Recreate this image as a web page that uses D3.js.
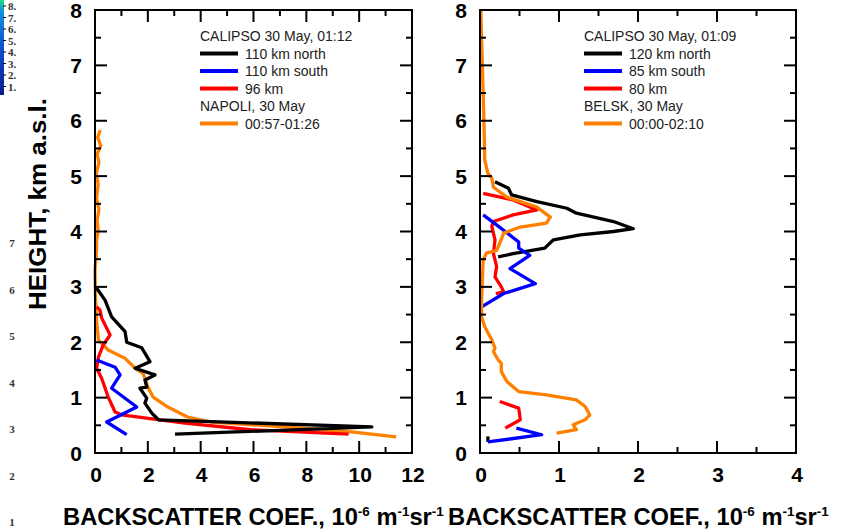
<!DOCTYPE html>
<html><head><meta charset="utf-8">
<script src="https://cdn.jsdelivr.net/npm/d3@7"></script>
<style>body{margin:0;background:#fff}svg{display:block}</style>
</head><body>
<svg id="c" width="848" height="531"></svg>
<script>
// ---- Data ----
const leftXTicks = [0, 2, 4, 6, 8, 10, 12];
const rightXTicks = [0, 1, 2, 3, 4];
const yTicks = [0, 1, 2, 3, 4, 5, 6, 7, 8];

// Left panel (Napoli)
const lNorthH = [2.98, 2.76, 2.46, 2.19, 2.0, 1.9, 1.65, 1.53, 1.41, 1.32, 1.19, 1.17, 0.99, 0.9, 0.72, 0.6, 0.47, 0.34];
const lNorthV = [0.06, 0.38, 0.63, 1.14, 1.2, 1.77, 2.08, 1.52, 2.27, 1.89, 1.96, 1.7, 1.96, 1.89, 2.15, 2.4, 10.48, 3.03];
const lSouthH = [1.68, 1.55, 1.41, 1.17, 0.83, 0.56, 0.33];
const lSouthV = [0.06, 0.76, 0.95, 0.63, 1.58, 0.44, 1.2];
const lMidH = [2.64, 2.58, 2.44, 2.13, 1.95, 1.73, 1.53, 1.35, 1.01, 0.74, 0.69, 0.54, 0.42, 0.34];
const lMidV = [0.06, 0.19, 0.25, 0.57, 0.31, 0.13, 0.06, 0.25, 0.5, 0.76, 1.01, 3.4, 5.9, 9.6];
const lLidarH = [5.83, 5.7, 5.55, 5.4, 5.25, 5.05, 4.85, 4.6, 4.4, 4.2, 4.0, 3.85, 3.66, 3.3, 2.8, 2.4, 2.04, 1.86, 1.77, 1.71, 1.53, 1.44, 1.19, 1.01, 0.83, 0.65, 0.56, 0.47, 0.38, 0.29];
const lLidarV = [0.2, 0.1, 0.22, 0.08, 0.15, 0.05, 0.12, 0.06, 0.15, 0.08, 0.12, 0.06, 0.06, 0.0, 0.02, 0.06, 0.13, 0.5, 0.88, 1.14, 1.52, 1.82, 2.0, 2.2, 2.76, 3.5, 4.4, 7.2, 9.7, 11.4];

// Right panel (Belsk)
const rNorthH = [4.9, 4.78, 4.66, 4.54, 4.42, 4.33, 4.18, 4.05, 4.0, 3.94, 3.85, 3.7, 3.6, 3.54];
const rNorthV = [0.19, 0.36, 0.4, 0.72, 1.1, 1.22, 1.69, 1.94, 1.69, 1.27, 0.93, 0.82, 0.42, 0.23];
const rNorthLowH = [0.3, 0.2];
const rNorthLowV = [0.1, 0.1];
const rSouthH = [4.3, 4.12, 3.81, 3.7, 3.57, 3.33, 3.06, 2.88, 2.64];
const rSouthV = [0.04, 0.21, 0.49, 0.49, 0.63, 0.38, 0.7, 0.3, 0.02];
const rSouthLowH = [0.45, 0.33, 0.2];
const rSouthLowV = [0.46, 0.78, 0.1];
const rMidH = [4.69, 4.57, 4.39, 4.3, 4.18, 4.09, 3.85, 3.6, 3.37, 3.18, 3.0, 2.91, 2.88];
const rMidV = [0.04, 0.42, 0.72, 0.42, 0.17, 0.15, 0.19, 0.17, 0.21, 0.19, 0.27, 0.3, 0.2];
const rMidLowH = [0.93, 0.81, 0.6, 0.45];
const rMidLowV = [0.25, 0.49, 0.51, 0.32];
const rLidarH = [8.0, 7.0, 6.0, 5.29, 5.05, 4.96, 4.8, 4.62, 4.44, 4.26, 4.15, 4.08, 3.97, 3.79, 3.66, 3.61, 3.48, 2.76, 2.46, 2.28, 2.04, 1.89, 1.83, 1.68, 1.62, 1.47, 1.29, 1.11, 1.05, 0.96, 0.84, 0.69, 0.6, 0.51, 0.42, 0.36];
const rLidarV = [0.01, 0.03, 0.05, 0.06, 0.1, 0.15, 0.17, 0.34, 0.72, 0.89, 0.84, 0.51, 0.3, 0.25, 0.21, 0.08, 0.04, 0.02, 0.02, 0.06, 0.15, 0.19, 0.17, 0.23, 0.27, 0.27, 0.34, 0.49, 0.84, 1.22, 1.33, 1.39, 1.33, 1.18, 1.22, 0.97];

const leftLegendTitle = "CALIPSO 30 May, 01:12";
const leftLegendLabels = ["110 km north", "110 km south", "96 km"];
const leftStation = "NAPOLI, 30 May";
const leftStationTime = "00:57-01:26";
const rightLegendTitle = "CALIPSO 30 May, 01:09";
const rightLegendLabels = ["120 km north", "85 km south", "80 km"];
const rightStation = "BELSK, 30 May";
const rightStationTime = "00:00-02:10";

const cbLabels = ["8.", "7.", "6.", "5.", "4.", "3.", "2.", "1."];
const sideLabels = ["7", "6", "5", "4", "3", "2", "1"];

const colors = {north: "#000000", south: "#0000ff", mid: "#ff0000", lidar: "#ff8000"};

// ---- Drawing ----
const svg = d3.select("#c");
const y = d3.scaleLinear().domain([0, 8]).range([453, 10]);
const xL = d3.scaleLinear().domain([0, 12]).range([95, 412]);
const xR = d3.scaleLinear().domain([0, 4]).range([480, 796]);

const zip = (H, V) => H.map((h, i) => [V[i], h]);

function panel(x, minorStep, majorStep, xTicks, series) {
  const g = svg.append("g");
  const [x0, x1] = x.range();
  const [y0, y1] = [y(0), y(8)];
  const line = d3.line().x(d => x(d[0])).y(d => y(d[1]));
  series.forEach(s => {
    g.append("path").attr("d", line(zip(s.h, s.v)))
      .attr("fill", "none").attr("stroke", s.c).attr("stroke-width", 3.3)
      .attr("stroke-linejoin", "round").attr("stroke-linecap", "butt");
  });
  g.append("rect").attr("x", x0).attr("y", y1).attr("width", x1 - x0).attr("height", y0 - y1)
    .attr("fill", "none").attr("stroke", "#000").attr("stroke-width", 2);
  const dom = x.domain();
  const nx = Math.round((dom[1] - dom[0]) / minorStep);
  for (let i = 1; i < nx; i++) {
    const v = dom[0] + i * minorStep;
    const major = Math.abs(v / majorStep - Math.round(v / majorStep)) < 1e-6;
    const L = major ? 12 : 6;
    g.append("line").attr("x1", x(v)).attr("x2", x(v)).attr("y1", y0).attr("y2", y0 - L).attr("stroke", "#000").attr("stroke-width", 2);
    g.append("line").attr("x1", x(v)).attr("x2", x(v)).attr("y1", y1).attr("y2", y1 + L).attr("stroke", "#000").attr("stroke-width", 2);
  }
  for (let i = 1; i < 16; i++) {
    const v = i * 0.5;
    const L = (i % 2 === 0) ? 12 : 6;
    g.append("line").attr("x1", x0).attr("x2", x0 + L).attr("y1", y(v)).attr("y2", y(v)).attr("stroke", "#000").attr("stroke-width", 2);
    g.append("line").attr("x1", x1).attr("x2", x1 - L).attr("y1", y(v)).attr("y2", y(v)).attr("stroke", "#000").attr("stroke-width", 2);
  }
  g.selectAll(".xl").data(xTicks).enter().append("text")
    .attr("x", d => x(d) + 1).attr("y", 482).attr("text-anchor", "middle")
    .attr("font-family", "Liberation Sans, Arial, sans-serif").attr("font-weight", "bold").attr("font-size", 21)
    .text(d => d);
  g.selectAll(".yl").data(yTicks).enter().append("text")
    .attr("x", x0 - 19).attr("y", d => y(d) + 7.5).attr("text-anchor", "middle")
    .attr("font-family", "Liberation Sans, Arial, sans-serif").attr("font-weight", "bold").attr("font-size", 21)
    .text(d => d);
  return g;
}

panel(xL, 1, 2, leftXTicks, [
  {h: lLidarH, v: lLidarV, c: colors.lidar},
  {h: lMidH, v: lMidV, c: colors.mid},
  {h: lSouthH, v: lSouthV, c: colors.south},
  {h: lNorthH, v: lNorthV, c: colors.north}
]);
panel(xR, 0.5, 1, rightXTicks, [
  {h: rNorthH, v: rNorthV, c: colors.north},
  {h: rNorthLowH, v: rNorthLowV, c: colors.north},
  {h: rMidH, v: rMidV, c: colors.mid},
  {h: rMidLowH, v: rMidLowV, c: colors.mid},
  {h: rSouthH, v: rSouthV, c: colors.south},
  {h: rSouthLowH, v: rSouthLowV, c: colors.south},
  {h: rLidarH, v: rLidarV, c: colors.lidar}
]);

function legend(x0, title, labels, station, time) {
  const g = svg.append("g").attr("font-family", "Liberation Sans, Arial, sans-serif").attr("font-size", 14).attr("fill", "#222");
  const rows = [36, 53.5, 71, 88.5, 106, 123.5];
  g.append("text").attr("x", x0).attr("y", rows[0] + 5).text(title);
  const cs = [colors.north, colors.south, colors.mid];
  labels.forEach((l, i) => {
    g.append("line").attr("x1", x0).attr("x2", x0 + 38).attr("y1", rows[i + 1]).attr("y2", rows[i + 1]).attr("stroke", cs[i]).attr("stroke-width", 4);
    g.append("text").attr("x", x0 + 45).attr("y", rows[i + 1] + 5).text(l);
  });
  g.append("text").attr("x", x0).attr("y", rows[4] + 5).text(station);
  g.append("line").attr("x1", x0).attr("x2", x0 + 38).attr("y1", rows[5]).attr("y2", rows[5]).attr("stroke", colors.lidar).attr("stroke-width", 4);
  g.append("text").attr("x", x0 + 45).attr("y", rows[5] + 5).text(time);
}
legend(200, leftLegendTitle, leftLegendLabels, leftStation, leftStationTime);
legend(584, rightLegendTitle, rightLegendLabels, rightStation, rightStationTime);

function xTitle(xStart, width) {
  const t = svg.append("text").attr("x", 0).attr("y", 0)
    .attr("font-family", "Liberation Sans, Arial, sans-serif").attr("font-weight", "bold").attr("font-size", 23);
  t.append("tspan").text("BACKSCATTER COEF., 10");
  t.append("tspan").attr("font-size", 13).attr("dy", -9).text("-6");
  t.append("tspan").attr("dy", 9).text(" m");
  t.append("tspan").attr("font-size", 13).attr("dy", -9).text("-1");
  t.append("tspan").attr("dy", 9).text("sr");
  t.append("tspan").attr("font-size", 13).attr("dy", -9).text("-1");
  const w = t.node().getBBox().width;
  t.attr("transform", `translate(${xStart},525) scale(${width / w},1)`);
}
xTitle(63, 381);
xTitle(448, 381);

const yt = svg.append("text").attr("x", 0).attr("y", 0).attr("text-anchor", "middle")
  .attr("font-family", "Liberation Sans, Arial, sans-serif").attr("font-weight", "bold").attr("font-size", 23)
  .text("HEIGHT, km a.s.l.");
const yw = yt.node().getBBox().width;
yt.attr("transform", `translate(46,204) rotate(-90) scale(${212 / yw},1)`);

// left-edge remnants of a neighbouring figure
const grad = svg.append("defs").append("linearGradient").attr("id", "cb").attr("x1", 0).attr("x2", 0).attr("y1", 0).attr("y2", 1);
[["0%", "#20e080"], ["12%", "#1090e0"], ["50%", "#1050d0"], ["100%", "#0a1a90"]].forEach(s => grad.append("stop").attr("offset", s[0]).attr("stop-color", s[1]));
svg.append("rect").attr("x", 0).attr("y", 0).attr("width", 4).attr("height", 95).attr("fill", "url(#cb)");
cbLabels.forEach((l, i) => {
  const yy = 6 + i * 11.5;
  svg.append("line").attr("x1", 3).attr("x2", 6).attr("y1", yy).attr("y2", yy).attr("stroke", "#000");
  svg.append("text").attr("x", 8).attr("y", yy + 4).attr("font-family", "Liberation Serif, serif").attr("font-weight", "bold").attr("font-size", 11).attr("fill", "#333").text(l);
});
sideLabels.forEach((l, i) => {
  svg.append("text").attr("x", 12).attr("y", 247 + i * 46.5).attr("text-anchor", "middle")
    .attr("font-family", "Liberation Serif, serif").attr("font-weight", "bold").attr("font-size", 11).attr("fill", "#333").text(l);
});
</script>
</body></html>
